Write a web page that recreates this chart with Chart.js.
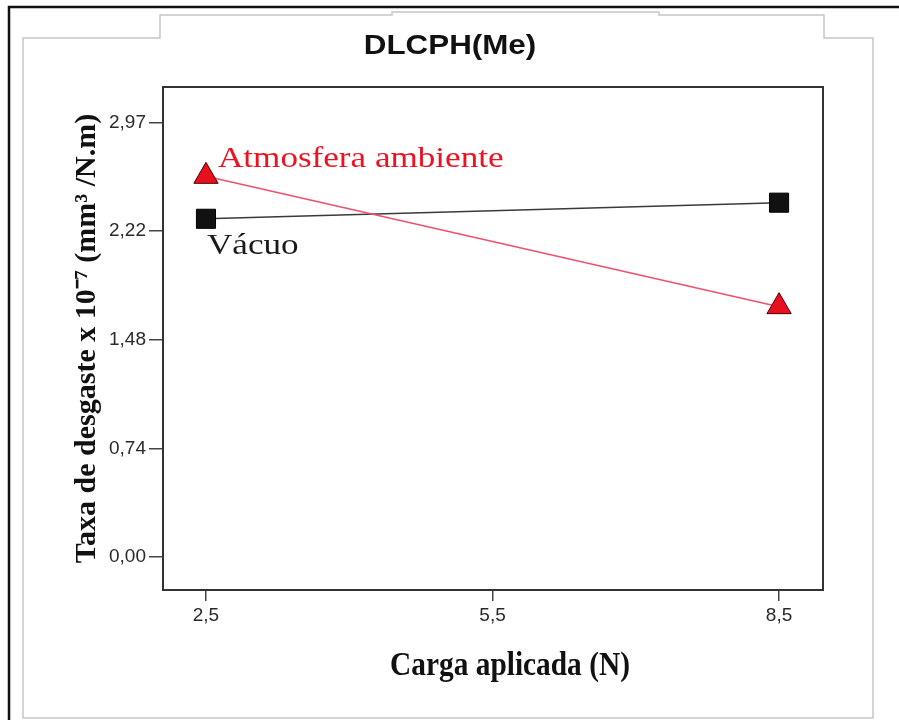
<!DOCTYPE html>
<html>
<head>
<meta charset="utf-8">
<script src="https://cdn.jsdelivr.net/npm/chart.js@4.4.0/dist/chart.umd.min.js"></script>
<style>
  html, body { margin: 0; padding: 0; background: #fff; }
  #wrap { position: absolute; left: 0; top: 0; width: 899px; height: 720px; }
</style>
</head>
<body>
<div id="wrap"><canvas id="chart" width="899" height="720"></canvas></div>
<script>
// values
const loads = [2.5, 8.5];
const ambiente = [2.60, 1.71];
const vacuo = [2.31, 2.42];
const xTickValues = [2.5, 5.5, 8.5];
const xTickLabels = ['2,5', '5,5', '8,5'];
const yTickValues = [0, 0.742, 1.484, 2.226, 2.968];
const yTickLabels = ['0,00', '0,74', '1,48', '2,22', '2,97'];

// draw text with a horizontal squeeze/stretch, the source picture is not square
function stretchText(ctx, text, x, y, sx) {
    ctx.save();
    ctx.translate(x, y);
    ctx.scale(sx, 1);
    ctx.fillText(text, 0, 0);
    ctx.restore();
}

// frame, title, plot box, x title and the two series labels
const decor = {
    id: 'decor',
    beforeDraw(chart) {
        const ctx = chart.ctx;
        ctx.save();
        ctx.fillStyle = '#fff';
        ctx.fillRect(0, 0, chart.width, chart.height);
        ctx.strokeStyle = '#c6c6c6';
        ctx.lineWidth = 1.5;
        ctx.beginPath();
        ctx.moveTo(23, 718); ctx.lineTo(23, 38); ctx.lineTo(160, 38); ctx.lineTo(160, 15);
        ctx.lineTo(392, 15); ctx.lineTo(392, 12); ctx.lineTo(659, 12); ctx.lineTo(659, 15);
        ctx.lineTo(824, 15); ctx.lineTo(824, 38); ctx.lineTo(873, 38); ctx.lineTo(873, 718);
        ctx.closePath();
        ctx.stroke();
        ctx.strokeStyle = '#111';
        ctx.lineWidth = 2.5;
        ctx.beginPath();
        ctx.moveTo(899, 7); ctx.lineTo(9, 7); ctx.lineTo(9, 720);
        ctx.stroke();
        ctx.restore();
    },
    afterDatasetsDraw(chart) {
        const ctx = chart.ctx;
        const a = chart.chartArea;
        const sx = chart.scales.x, sy = chart.scales.y;
        ctx.save();
        ctx.strokeStyle = '#333';
        ctx.lineWidth = 2;
        ctx.strokeRect(a.left, a.top, a.right - a.left, a.bottom - a.top);

        ctx.textAlign = 'left';
        ctx.textBaseline = 'alphabetic';
        ctx.font = '30px "Liberation Serif"';
        ctx.fillStyle = '#ee1122';
        stretchText(ctx, 'Atmosfera ambiente', sx.getPixelForValue(loads[0]) + 12, sy.getPixelForValue(ambiente[0]) - 9, 1.17);
        ctx.fillStyle = '#1a1a1a';
        stretchText(ctx, 'Vácuo', sx.getPixelForValue(loads[0]) + 1, sy.getPixelForValue(vacuo[0]) + 35, 1.17);

        ctx.textAlign = 'center';
        ctx.font = 'bold 33px "Liberation Serif"';
        ctx.fillStyle = '#111';
        stretchText(ctx, 'Carga aplicada (N)', 510, 675, 0.89);

        ctx.textBaseline = 'middle';
        ctx.font = 'bold 28px "Liberation Sans"';
        stretchText(ctx, 'DLCPH(Me)', 450, 46, 1.12);
        ctx.restore();
    }
};

const ctx = document.getElementById('chart').getContext('2d');
const chart = new Chart(ctx, {
    type: 'line',
    data: {
        datasets: [{
            label: 'Atmosfera ambiente',
            data: loads.map((x, i) => ({x: x, y: ambiente[i]})),
            borderColor: '#f0506e',
            borderWidth: 1.5,
            pointStyle: 'triangle',
            pointRadius: 14,
            pointBackgroundColor: '#e8101e',
            pointBorderColor: '#4a0000',
            pointBorderWidth: 1
        }, {
            label: 'Vácuo',
            data: loads.map((x, i) => ({x: x, y: vacuo[i]})),
            borderColor: '#3a3a3a',
            borderWidth: 1.5,
            pointStyle: 'rect',
            pointRadius: 13.5,
            pointBackgroundColor: '#111',
            pointBorderColor: '#000',
            pointBorderWidth: 1
        }]
    },
    options: {
        responsive: false,
        animation: false,
        events: [],
        layout: {padding: {left: 0, top: 87, right: 76, bottom: 0}},
        plugins: {legend: {display: false}, title: {display: false}, tooltip: {enabled: false}},
        scales: {
            x: {
                type: 'linear',
                min: 2.05,
                max: 8.96,
                afterBuildTicks: s => { s.ticks = xTickValues.map(v => ({value: v})); },
                afterFit: s => { s.height = 130; },
                ticks: {
                    callback: (v, i) => xTickLabels[i],
                    font: {family: 'Liberation Sans', size: 19},
                    color: '#2a2a2a',
                    padding: 3,
                    maxRotation: 0
                },
                grid: {drawOnChartArea: false, tickLength: 11, color: '#444', lineWidth: 1.5},
                border: {display: true, color: '#333', width: 2}
            },
            y: {
                min: -0.225,
                max: 3.21,
                afterBuildTicks: s => { s.ticks = yTickValues.map(v => ({value: v})); },
                afterFit: s => { s.width = 163; },
                ticks: {
                    callback: (v, i) => yTickLabels[i],
                    font: {family: 'Liberation Sans', size: 19},
                    color: '#2a2a2a',
                    padding: 3
                },
                grid: {drawOnChartArea: false, tickLength: 14, color: '#444', lineWidth: 1.5},
                border: {display: true, color: '#333', width: 2},
                title: {
                    display: true,
                    text: 'Taxa de desgaste x 10⁻⁷ (mm³ /N.m)',
                    font: {family: 'Liberation Serif', size: 30, weight: 'bold'},
                    color: '#111',
                    padding: {top: 69, bottom: 0}
                }
            }
        }
    },
    plugins: [decor]
});
</script>
</body>
</html>
